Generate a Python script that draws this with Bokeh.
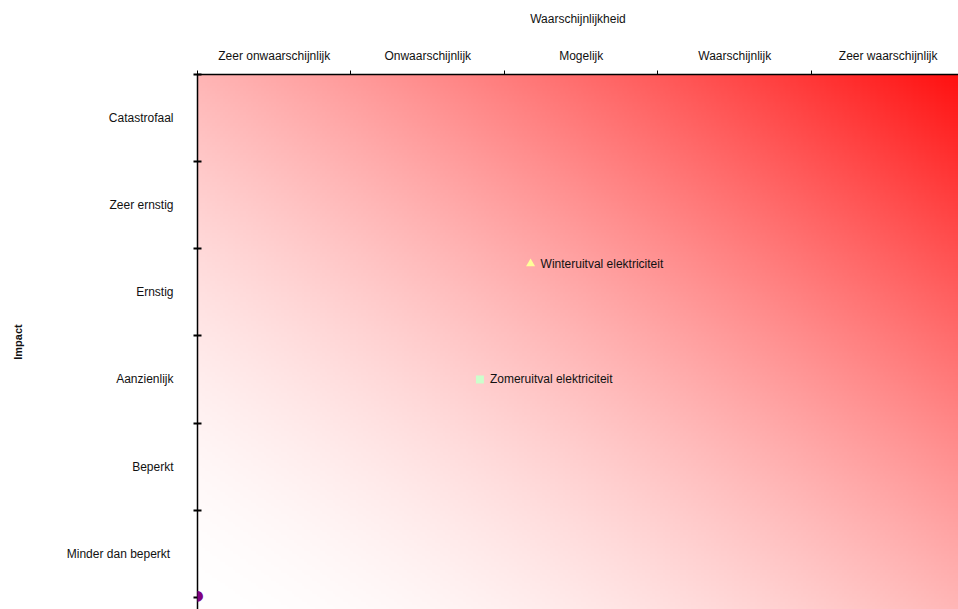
import numpy as np
from bokeh.plotting import figure
from bokeh.models import Range1d, FixedTicker, ColumnDataSource, Label
from bokeh.core.properties import value
from bokeh.embed import file_html
from bokeh.resources import INLINE

# ---------------- data ----------------
likelihood_labels = ["Zeer onwaarschijnlijk", "Onwaarschijnlijk", "Mogelijk",
                     "Waarschijnlijk", "Zeer waarschijnlijk"]
impact_labels = ["Minder  dan beperkt", "Beperkt", "Aanzienlijk", "Ernstig",
                 "Zeer ernstig", "Catastrofaal"]

risk_names = ["Winteruitval elektriciteit", "Zomeruitval elektriciteit"]
risk_likelihood = [2.17, 1.84]
risk_impact = [3.83, 2.50]

origin_likelihood = [0.0]
origin_impact = [0.0]

FONT = "Liberation Sans"

nx_cat = len(likelihood_labels)
ny_cat = len(impact_labels)
x_end = 4.958
y_bottom = -0.14

p = figure(width=958, height=609, output_backend="svg", toolbar_location=None,
           x_axis_location="above",
           x_range=Range1d(0, x_end), y_range=Range1d(y_bottom, ny_cat),
           min_border_left=197, min_border_right=0, min_border_top=74,
           min_border_bottom=0)
p.outline_line_color = None
p.xgrid.visible = False
p.ygrid.visible = False
p.background_fill_color = "white"
p.border_fill_color = "white"

# ---------------- gradient background ----------------
ny, nx = 200, 300
u = np.linspace(0, 1, nx)
v = np.linspace(0, 1, ny)
U, V = np.meshgrid(u, v)
t = (U + V) / 2.0
gb = np.clip(255 - 240 * t ** 1.7, 0, 255).astype(np.uint8)
img = np.empty((ny, nx), dtype=np.uint32)
view = img.view(dtype=np.uint8).reshape((ny, nx, 4))
view[..., 0] = 255
view[..., 1] = gb
view[..., 2] = gb
view[..., 3] = 255
p.image_rgba(image=[img], x=0, y=y_bottom, dw=nx_cat, dh=ny_cat - y_bottom)

# ---------------- axes ----------------
xmid = [i + 0.5 for i in range(nx_cat)]
ymid = [i + 0.5 for i in range(ny_cat)]

xa = p.xaxis[0]
xa.ticker = FixedTicker(ticks=xmid, minor_ticks=list(range(nx_cat + 1)))
xa.major_label_overrides = {m: lab for m, lab in zip(xmid, likelihood_labels)}
xa.major_tick_line_color = None
xa.major_tick_in = 0
xa.major_tick_out = 0
xa.minor_tick_in = 0
xa.minor_tick_out = 4
xa.minor_tick_line_color = "black"
xa.minor_tick_line_width = 1
xa.axis_line_color = "black"
xa.axis_line_width = 1.5
xa.major_label_standoff = 8
xa.major_label_text_font = FONT
xa.major_label_text_font_size = "12px"
xa.major_label_text_color = "#111111"
xa.axis_label = "Waarschijnlijkheid"
xa.axis_label_text_font = FONT
xa.axis_label_text_font_size = "12px"
xa.axis_label_text_font_style = "normal"
xa.axis_label_text_color = "#111111"
xa.axis_label_standoff = 20

ya = p.yaxis[0]
ya.ticker = FixedTicker(ticks=ymid, minor_ticks=list(range(ny_cat + 1)))
ya.major_label_overrides = {m: lab for m, lab in zip(ymid, impact_labels)}
ya.major_tick_line_color = None
ya.major_tick_in = 0
ya.major_tick_out = 0
ya.minor_tick_in = 4
ya.minor_tick_out = 4
ya.minor_tick_line_color = "black"
ya.minor_tick_line_width = 2
ya.axis_line_color = "black"
ya.axis_line_width = 1.5
ya.major_label_standoff = 20
ya.major_label_text_font = FONT
ya.major_label_text_font_size = "12px"
ya.major_label_text_color = "#111111"
ya.axis_label = "Impact"
ya.axis_label_text_font = FONT
ya.axis_label_text_font_size = "11px"
ya.axis_label_text_font_style = "bold"
ya.axis_label_text_color = "#111111"
ya.axis_label_standoff = 40

# ---------------- risk markers ----------------
src = ColumnDataSource(dict(x=risk_likelihood, y=risk_impact, name=risk_names))
p.scatter(x=[risk_likelihood[0]], y=[risk_impact[0]], marker="triangle",
          size=9, fill_color="#ffff99", line_color=None)
p.scatter(x=[risk_likelihood[1]], y=[risk_impact[1]], marker="square",
          size=8, fill_color="#ccffcc", line_color=None)
p.text(x="x", y="y", text="name", source=src, x_offset=10,
       text_baseline="middle", text_font_size="12px", text_color="#111111",
       text_font=value(FONT))

# origin point (drawn as an unclipped annotation so it shows across the axis)
p.add_layout(Label(x=origin_likelihood[0], y=origin_impact[0], text="\u25CF",
                   text_align="center", text_baseline="middle", y_offset=2,
                   text_font="DejaVu Sans", text_font_size="14px",
                   text_color="#800080"))

open("out.html", "w").write(file_html(p, INLINE))
